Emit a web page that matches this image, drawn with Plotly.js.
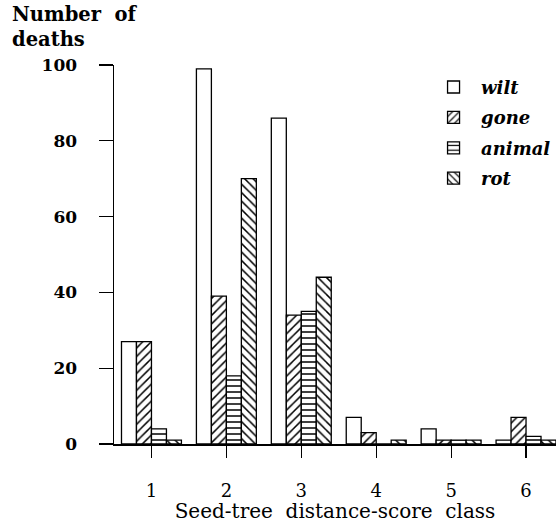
<!DOCTYPE html>
<html><head><meta charset="utf-8">
<script src="https://cdn.plot.ly/plotly-3.0.1.min.js"></script>
<style>html,body{margin:0;padding:0;background:#fff}#chart{width:556px;height:523px}</style>
</head><body><div id="chart"></div>
<script>
const classes = [1, 2, 3, 4, 5, 6];
const wilt   = [27, 99, 86, 7, 4, 1];
const gone   = [27, 39, 34, 3, 1, 7];
const animal = [4, 18, 35, 0, 1, 2];
const rot    = [1, 70, 44, 1, 1, 1];
const seriesNames = ['wilt', 'gone', 'animal', 'rot'];
const yTicks = [0, 20, 40, 60, 80, 100];

const shapes = ['', '/', '-', '\\'];
const data = [wilt, gone, animal, rot].map((v, i) => ({
  type: 'bar', x: classes, y: v, name: seriesNames[i], legendgroup: 'g' + i,
  marker: {
    color: 'white',
    line: {color: 'black', width: 1.3},
    pattern: {shape: shapes[i], fgcolor: 'black', bgcolor: 'white', size: 6, solidity: 0.25}
  }
}));

const serif = 'DejaVu Serif, Liberation Serif, serif';
const layout = {
  width: 556, height: 523,
  margin: {l: 114, r: 0, t: 65, b: 79, autoexpand: false},
  paper_bgcolor: 'white', plot_bgcolor: 'white',
  barmode: 'group', bargap: 0.2, bargroupgap: 0,
  showlegend: true,
  legend: {x: 0.706, y: 0.99, xanchor: 'left', yanchor: 'top', traceorder: 'grouped', tracegroupgap: 4,
           font: {family: serif, size: 18, style: 'italic', weight: 'bold', color: 'black'},
           bgcolor: 'rgba(0,0,0,0)', itemwidth: 45},
  xaxis: {range: [0.5, 6.4], tickvals: classes, ticktext: classes.map(String),
          showline: true, linecolor: 'black', linewidth: 2, showgrid: false, zeroline: false,
          ticks: 'outside', ticklen: 12, tickwidth: 1.2, tickcolor: 'black', ticklabelstandoff: 17,
          tickfont: {family: serif, size: 18, color: 'black'},
          title: {text: 'Seed-tree  distance-score  class', font: {family: serif, size: 20, color: 'black'}, standoff: 0}},
  yaxis: {range: [0, 100], tickvals: yTicks, showline: true, linecolor: 'black', linewidth: 1.5,
          showgrid: false, zeroline: false, ticks: 'outside', ticklen: 14, tickwidth: 1.2, tickcolor: 'black',
          ticklabelstandoff: 18, tickfont: {family: serif, size: 17, weight: 'bold', color: 'black'}},
  annotations: [{text: 'Number  of<br>deaths', xref: 'paper', yref: 'paper', x: -0.235, y: 1.168,
                 xanchor: 'left', yanchor: 'top', align: 'left', showarrow: false,
                 font: {family: serif, size: 19.5, weight: 'bold', color: 'black'}}]
};
Plotly.newPlot('chart', data, layout, {displayModeBar: false, staticPlot: true});
</script></body></html>
